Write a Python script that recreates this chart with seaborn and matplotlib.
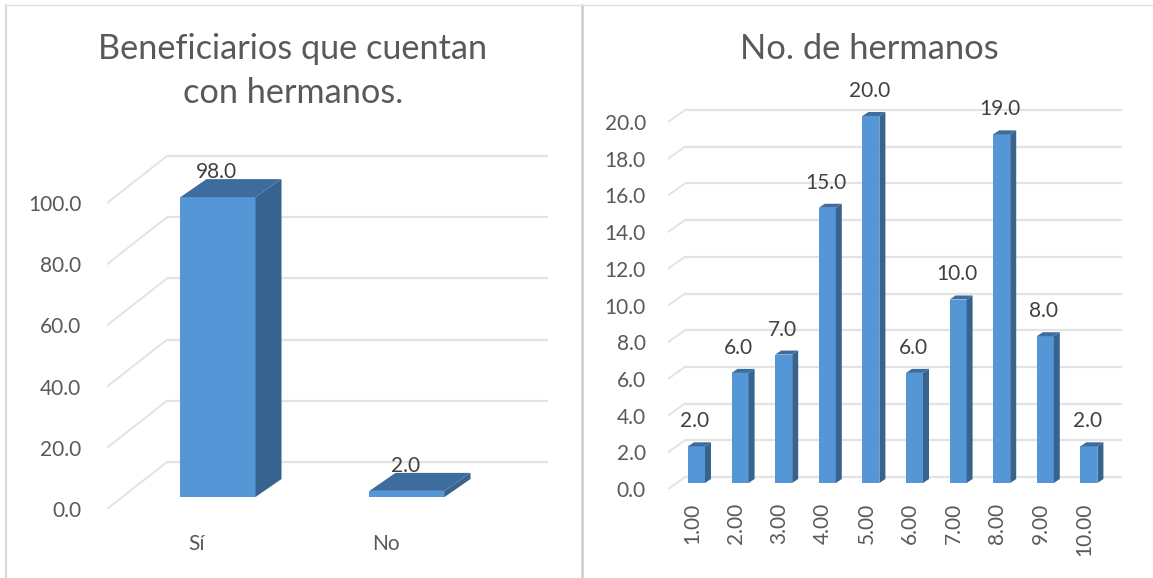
import matplotlib
matplotlib.use("Agg")
import matplotlib.pyplot as plt
from matplotlib.lines import Line2D
import seaborn as sns

sns.set_theme(style="white")
plt.rcParams['font.family'] = ['Lato', 'DejaVu Sans']

W, H = 1153, 578

# left chart
cats_a = ["Sí", "No"]
vals_a = [98.0, 2.0]
ticks_a = [0, 20, 40, 60, 80, 100]

# right chart
cats_b = ["1.00", "2.00", "3.00", "4.00", "5.00", "6.00", "7.00", "8.00", "9.00", "10.00"]
vals_b = [2.0, 6.0, 7.0, 15.0, 20.0, 6.0, 10.0, 19.0, 8.0, 2.0]
ticks_b = [0, 2, 4, 6, 8, 10, 12, 14, 16, 18, 20]

FRONT = "#5596d6"
SIDE = "#36648f"
TOP = "#3d6d9e"
GRID = "#e3e3e3"
TEXT = "#595959"
LABEL = "#404040"


def fake_3d(ax, cats, vals, ticks, px_x, px_y, wall, shift, depth, width, pad, fs):
    # px_x, px_y: pixels per category / per unit, everything below is in data units
    wx, wy = wall[0] / px_x, wall[1] / px_y
    sx, sy = shift[0] / px_x, shift[1] / px_y
    dx, dy = depth[0] / px_x, depth[1] / px_y
    x0, x1 = ax.get_xlim()

    ax.hlines([t + wy for t in ticks], x0 + wx, x1, color=GRID, lw=1.6, zorder=1)
    for t in ticks:
        ax.plot([x0, x0 + wx], [t, t + wy], color=GRID, lw=1.4, zorder=1, solid_capstyle="round")

    sns.barplot(x=cats, y=vals, color=FRONT, saturation=1, width=width, ax=ax, zorder=3)
    ax.set_xlim(x0, x1)
    for p, v in zip(ax.patches, vals):
        p.set_x(p.get_x() + sx)
        p.set_y(sy)
        p.set_edgecolor("none")
        l, r, b, t = p.get_x(), p.get_x() + p.get_width(), sy, sy + v
        ax.fill([r, r + dx, r + dx, r], [b, b + dy, t + dy, t], color=SIDE, lw=0, zorder=3)
        ax.fill([l, r, r + dx, l + dx], [t, t, t + dy, t + dy], color=TOP, lw=0, zorder=3)
        ax.text((l + r) / 2 - 1.5 / px_x, t + 25 / px_y, f"{v:.1f}", ha="center", va="center",
                fontsize=fs, color=LABEL, zorder=5)

    ax.set_yticks(ticks)
    ax.set_yticklabels([f"{t:.1f}" for t in ticks])
    ax.tick_params(axis="y", length=0, pad=pad, labelsize=fs, labelcolor=TEXT)
    ax.set_xlabel("")
    ax.set_ylabel("")
    sns.despine(ax=ax, left=True, bottom=True)


def make_axes(left, right, bottom, top):
    return fig.add_axes([left / W, 1 - bottom / H, (right - left) / W, (bottom - top) / H])


fig = plt.figure(figsize=(W / 100, H / 100), dpi=100, facecolor="white")

ax1 = make_axes(107, 548, 509, 150)
ax1.set_xlim(-0.476, 1.857)
ax1.set_ylim(0, 359 / 3.06)
fake_3d(ax1, cats_a, vals_a, ticks_a, 189, 3.06, (60, 47), (21, 12), (26, 18), 0.397, 18.5, 15)
ax1.tick_params(axis="x", length=0, pad=18, labelsize=15, labelcolor=TEXT)

ax2 = make_axes(668, 1122, 489, 95)
ax2.set_xlim(-0.55, 9.862)
ax2.set_ylim(0, 394 / 18.35)
fake_3d(ax2, cats_b, vals_b, ticks_b, 43.6, 18.35, (17, 12), (4.5, 6), (6, 4), 0.39, 16, 15)
ax2.tick_params(axis="x", length=0, pad=10, labelsize=15, labelcolor=TEXT, labelrotation=90)

fig.text(293 / W, 1 - 49 / H, "Beneficiarios que cuentan", ha="center", va="center", fontsize=24.7, color=TEXT)
fig.text(293 / W, 1 - 93 / H, "con hermanos.", ha="center", va="center", fontsize=24.7, color=TEXT)
fig.text(869 / W, 1 - 49 / H, "No. de hermanos", ha="center", va="center", fontsize=24.8, color=TEXT)

# panel borders
for xs, ys, c, lw in [
    ((6, 6), (4.5, 578), "#d9d9d9", 1.5),
    ((581.5, 581.5), (4.5, 578), "#d0d0d0", 2.0),
    ((6, 1153), (4.5, 4.5), "#e0e0e0", 1.0),
]:
    fig.add_artist(Line2D([x / W for x in xs], [1 - y / H for y in ys], color=c, lw=lw))

fig.savefig("out.png", dpi=100)
